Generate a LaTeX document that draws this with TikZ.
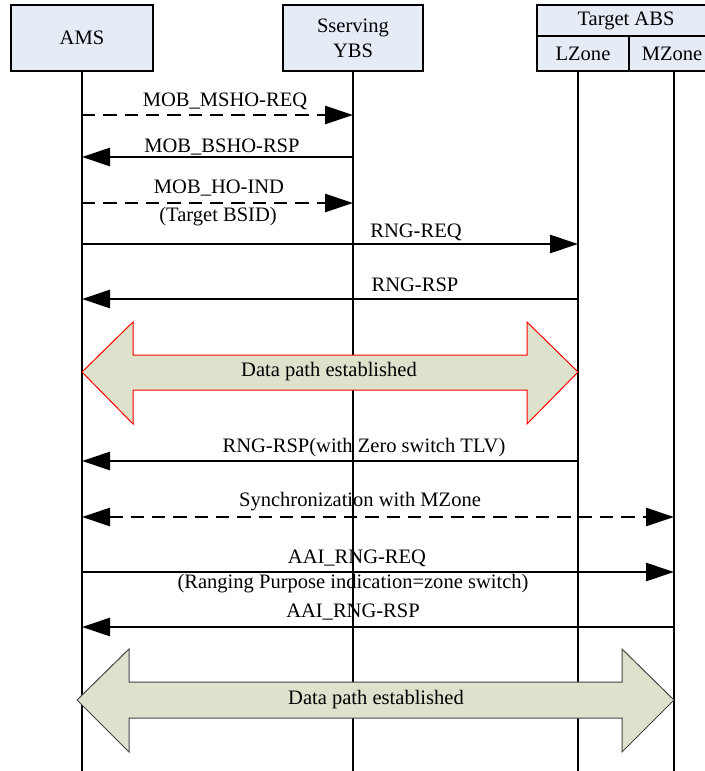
\documentclass[tikz,border=0pt]{standalone}
\usepackage{fontspec}
\setmainfont{Liberation Serif}
\usetikzlibrary{arrows.meta}
\definecolor{boxblue}{RGB}{230,236,246}
\definecolor{pathgreen}{RGB}{221,226,204}
\definecolor{pathedge}{RGB}{70,70,70}
\tikzset{every picture/.style={line width=0.75pt}}
\tikzset{
  entity/.style={draw, line width=2pt, fill=boxblue, inner sep=0pt, align=center},
  life/.style={line width=1.7pt},
  msg/.style={line width=2pt, -{Triangle[length=21pt,width=13.5pt]}},
  msgdash/.style={msg, dash pattern=on 10pt off 6pt},
  bothdash/.style={line width=2pt, {Triangle[length=21pt,width=13.5pt]}-{Triangle[length=21pt,width=13.5pt]}, dash pattern=on 10pt off 6pt},
  lbl/.style={inner sep=0.75pt},
  datapath/.style={fill=pathgreen, line width=0.75pt}
}

\begin{document}
\begin{tikzpicture}[x=0.75pt,y=0.75pt,yscale=-1,xscale=1,
  every node/.style={font=\fontsize{15.4pt}{19pt}\selectfont}]
\clip (0,0) rectangle (705,771);

%Entity boxes
\node[entity, minimum width=106.5pt, minimum height=49.5pt] (ams) at (82,38) {AMS};
\node[entity, minimum width=105pt, minimum height=49.5pt] (ybs) at (353,38) {Sserving\\YBS};
\node[entity, minimum width=133.5pt, minimum height=23.25pt] (abs) at (626,20.5) {Target ABS};
\node[entity, minimum width=69pt, minimum height=26.25pt] (lz) at (583,53.5) {LZone};
\node[entity, minimum width=64.5pt, minimum height=26.25pt] (mz) at (672,53.5) {MZone};

%Lifeline ends
\coordinate (amsE) at (82,771);
\coordinate (ybsE) at (353,771);
\coordinate (lzE) at (578,771);
\coordinate (mzE) at (674,771);

%Message rows
\coordinate (y1) at (0,115);
\coordinate (y2) at (0,157);
\coordinate (y3) at (0,203);
\coordinate (y4) at (0,244);
\coordinate (y5) at (0,299);
\coordinate (y6) at (0,461);
\coordinate (y7) at (0,517);
\coordinate (y8) at (0,572);
\coordinate (y9) at (0,627);

% Text Node
\node[lbl] (t1) at (225,101) {MOB\_MSHO-REQ};
\node[lbl] (t2) at (222,147) {MOB\_BSHO-RSP};
\node[lbl] (t3) at (219,188) {MOB\_HO-IND};
\node[lbl] (t3b) at (218,217) {(Target BSID)};
\node[lbl] (t4) at (416,232) {RNG-REQ};
\node[lbl] (t5) at (415,285) {RNG-RSP};
\node[lbl] (t6) at (364,448) {RNG-RSP(with Zero switch TLV)};
\node[lbl] (t7) at (360,502) {Synchronization with MZone};
\node[lbl] (t8) at (357,558) {AAI\_RNG-REQ};
\node[lbl] (t8b) at (353,584) {(Ranging Purpose indication=zone switch)};
\node[lbl] (t9) at (353,612) {AAI\_RNG-RSP};

%Lifelines
\draw[life] (ams.south) -- (amsE);
\draw[life] (ybs.south) -- (ybsE);
\draw[life] (lz.south -| lzE) -- (lzE);
\draw[life] (mz.south -| mzE) -- (mzE);

%Messages
\draw[msgdash] (amsE |- y1) -- (ybsE |- y1);
\draw[msg] (ybsE |- y2) -- (amsE |- y2);
\draw[msgdash] (amsE |- y3) -- (ybsE |- y3);
\draw[msg] (amsE |- y4) -- (lzE |- y4);
\draw[msg] (lzE |- y5) -- (amsE |- y5);
\draw[msg] (lzE |- y6) -- (amsE |- y6);
\draw[bothdash] (amsE |- y7) -- (mzE |- y7);
\draw[msg] (amsE |- y8) -- (mzE |- y8);
\draw[msg] (mzE |- y9) -- (amsE |- y9);

%Data path arrows
\draw[datapath, draw=red] (82,372) -- (133,322) -- (133,355) -- (527,355) -- (527,322) -- (578,372)
  -- (527,424) -- (527,390) -- (133,390) -- (133,424) -- cycle;
\node (dp1) at (329,372) {Data path established};
\draw[datapath, draw=pathedge] (77,700) -- (129,649) -- (129,682) -- (622,682) -- (622,649) -- (674,700)
  -- (622,752) -- (622,718) -- (129,718) -- (129,752) -- cycle;
\node (dp2) at (376,700) {Data path established};

\end{tikzpicture}
\end{document}
